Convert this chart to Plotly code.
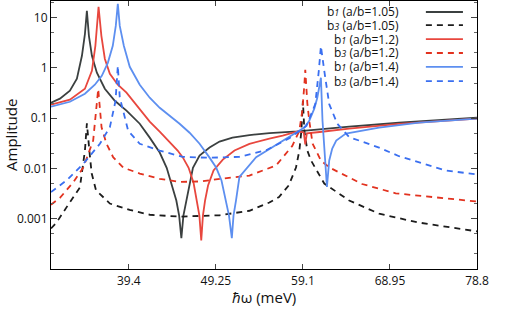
import plotly.graph_objects as go

# ---- data ----
energy_b1_105 = [30.6, 31.61, 32.74, 33.53, 34.10, 34.44, 34.66, 34.89, 35.23, 35.79, 36.69, 37.82, 39.14, 40.64, 41.77, 42.90, 43.69, 44.25, 44.78, 45.10, 45.35, 45.58, 45.91, 46.66, 47.41, 48.54, 49.67, 51.13, 53.05, 55.31, 58.5, 60.95, 64.34, 69.98, 74.5, 78.8]
amp_b1_105 = [0.203, 0.244, 0.352, 0.608, 1.74, 4.75, 13.6, 4.34, 1.74, 0.80, 0.385, 0.222, 0.141, 0.0775, 0.041, 0.0207, 0.0103, 0.0050, 0.0023, 0.00115, 0.00041, 0.00115, 0.0023, 0.0103, 0.018, 0.026, 0.0342, 0.041, 0.046, 0.0504, 0.0547, 0.06, 0.068, 0.081, 0.091, 0.102]

energy_b3_105 = [30.6, 31.25, 32.37, 33.87, 34.44, 34.66, 34.94, 35.2, 35.69, 37.26, 39.5, 41.77, 45.15, 49.67, 53.05, 55.31, 56.4, 57.5, 58.32, 58.7, 58.93, 59.1, 59.27, 59.6, 60.02, 61.52, 64.34, 67.72, 72.0, 78.8]
amp_b3_105 = [0.00064, 0.00085, 0.0017, 0.0042, 0.0227, 0.079, 0.0227, 0.008, 0.0037, 0.002, 0.0015, 0.0012, 0.0011, 0.00117, 0.00144, 0.0021, 0.0027, 0.0046, 0.0104, 0.0227, 0.056, 0.22, 0.056, 0.0227, 0.0144, 0.005, 0.0023, 0.00126, 0.00085, 0.00056]

energy_b1_12 = [30.6, 32.74, 34.44, 35.23, 35.62, 35.98, 36.30, 36.69, 37.26, 38.16, 39.14, 40.64, 41.77, 42.90, 44.03, 44.93, 45.53, 46.17, 46.73, 47.13, 47.39, 47.60, 47.79, 48.03, 48.37, 48.99, 50.04, 51.36, 53.05, 55.31, 56.81, 58.5, 59.2, 59.37, 59.55, 61.0, 64.34, 69.98, 74.5, 78.8]
amp_b1_12 = [0.185, 0.233, 0.385, 0.875, 2.75, 16.3, 4.34, 1.52, 0.763, 0.462, 0.321, 0.155, 0.0853, 0.054, 0.0342, 0.0227, 0.0164, 0.0103, 0.0052, 0.0023, 0.00115, 0.00037, 0.00115, 0.0023, 0.00458, 0.0091, 0.015, 0.0227, 0.0308, 0.0392, 0.045, 0.0547, 0.052, 0.03, 0.05, 0.053, 0.062, 0.077, 0.088, 0.098]

energy_b3_12 = [30.6, 31.61, 33.12, 34.25, 35.37, 35.75, 35.94, 36.32, 36.88, 37.63, 38.76, 40.64, 42.9, 45.15, 47.41, 50.0, 53.05, 56.07, 57.9, 58.7, 59.03, 59.26, 59.37, 59.6, 59.82, 60.2, 61.14, 62.08, 65.8, 69.6, 78.8]
amp_b3_12 = [0.0019, 0.0026, 0.0053, 0.0104, 0.0358, 0.141, 0.38, 0.066, 0.031, 0.0168, 0.0104, 0.0079, 0.0062, 0.0054, 0.0055, 0.0063, 0.0072, 0.0115, 0.028, 0.056, 0.14, 0.44, 0.92, 0.2, 0.089, 0.031, 0.0144, 0.0105, 0.0049, 0.0032, 0.0022]

energy_b1_14 = [30.6, 32.74, 34.44, 35.56, 36.35, 37.03, 37.59, 37.93, 38.16, 38.38, 38.84, 39.51, 40.64, 41.77, 42.90, 44.03, 45.15, 46.28, 47.41, 48.54, 49.30, 49.89, 50.42, 50.74, 51.06, 51.25, 51.53, 51.92, 53.81, 56.81, 58.5, 59.26, 59.82, 60.39, 60.73, 60.95, 61.14, 61.32, 61.63, 61.82, 62.08, 62.42, 62.87, 63.96, 67.72, 72.23, 78.8]
amp_b1_14 = [0.169, 0.212, 0.306, 0.462, 0.697, 1.26, 2.75, 6.84, 18.7, 6.84, 2.75, 1.05, 0.462, 0.255, 0.161, 0.112, 0.0775, 0.0513, 0.031, 0.0164, 0.0103, 0.00575, 0.0023, 0.00115, 0.00041, 0.00115, 0.0023, 0.0068, 0.0168, 0.036, 0.0547, 0.0649, 0.089, 0.155, 0.255, 0.442, 0.637, 0.089, 0.0144, 0.0043, 0.0144, 0.0248, 0.0358, 0.0492, 0.065, 0.0815, 0.0977]

energy_b3_14 = [30.6, 32.37, 34.25, 36.13, 37.26, 37.9, 38.16, 38.38, 39.33, 40.64, 42.9, 45.5, 48.5, 51.9, 54.94, 57.57, 59.5, 60.5, 60.9, 61.14, 61.52, 62.08, 63.0, 64.34, 67.72, 69.98, 75.25, 78.8]
amp_b3_14 = [0.0034, 0.0058, 0.0123, 0.031, 0.066, 0.22, 1.1, 0.26, 0.056, 0.031, 0.0227, 0.017, 0.0163, 0.017, 0.023, 0.04, 0.07, 0.19, 0.87, 2.7, 0.87, 0.19, 0.077, 0.042, 0.026, 0.0175, 0.0091, 0.0076]

x_ticks = [39.4, 49.25, 59.1, 68.95, 78.8]
x_tick_text = ["39.4", "49.25", "59.1", "68.95", "78.8"]
y_ticks = [10, 1, 0.1, 0.01, 0.001]
y_tick_text = ["10", "1", "0.1", "0.01", "0.001"]

SUB = '<span style="font-size:9px"><i>%s</i></span>'
series = [
    ("b" + SUB % "1" + " (a/b=1.05)", energy_b1_105, amp_b1_105, "#3b4040", "solid"),
    ("b" + SUB % "3" + " (a/b=1.05)", energy_b3_105, amp_b3_105, "#1c1c1c", "6px,5px"),
    ("b" + SUB % "1" + " (a/b=1.2)", energy_b1_12, amp_b1_12, "#e8473e", "solid"),
    ("b" + SUB % "3" + " (a/b=1.2)", energy_b3_12, amp_b3_12, "#e2321f", "6px,5px"),
    ("b" + SUB % "1" + " (a/b=1.4)", energy_b1_14, amp_b1_14, "#5d8ff0", "solid"),
    ("b" + SUB % "3" + " (a/b=1.4)", energy_b3_14, amp_b3_14, "#3a6ff0", "6px,5px"),
]

FONT = "Open Sans"
fig = go.Figure()
for name, xs, ys, col, dash in series:
    fig.add_trace(go.Scatter(x=xs, y=ys, mode="lines", name=name,
                             line=dict(color=col, width=1.8, dash=dash),
                             showlegend=False))

# legend drawn manually: text to the left of the line sample
legend_y = [0.959, 0.910, 0.858, 0.806, 0.754, 0.701]
for (name, xs, ys, col, dash), ly in zip(series, legend_y):
    fig.add_annotation(x=0.819, y=ly, xref="paper", yref="paper", text=name,
                       showarrow=False, xanchor="right", yanchor="middle", borderpad=0,
                       font=dict(family=FONT, size=12, color="#111"))
    fig.add_shape(type="line", xref="paper", yref="paper", x0=0.880, x1=0.967,
                  y0=ly, y1=ly, line=dict(color=col, width=1.8, dash=dash))

# axis titles as annotations
fig.add_annotation(x=0.5, y=-0.1045, xref="paper", yref="paper", text="<i>ħ</i>ω (meV)",
                   showarrow=False, xanchor="center", yanchor="middle",
                   font=dict(family=FONT, size=15, color="#111"))
fig.add_annotation(x=-0.094, y=0.5, xref="paper", yref="paper", text="Amplitude",
                   showarrow=False, xanchor="center", yanchor="middle", textangle=-90,
                   borderpad=0, font=dict(family=FONT, size=15, color="#111"))

minor_vals = []
for e in range(-4, 2):
    for m in (2, 5):
        minor_vals.append(m * 10 ** e)

fig.update_layout(
    width=514, height=315,
    margin=dict(l=51, r=37, t=1, b=46),
    plot_bgcolor="white", paper_bgcolor="white",
    font=dict(family=FONT, size=12, color="#111"),
    xaxis=dict(range=[30.6, 78.8], tickvals=x_ticks, ticktext=x_tick_text,
               ticks="inside", ticklen=5, tickcolor="#444", mirror="ticks",
               showline=True, linecolor="black", linewidth=1.2, showgrid=False,
               zeroline=False, automargin=False),
    yaxis=dict(type="log", range=[-4, 1.33], tickvals=y_ticks, ticktext=y_tick_text,
               ticks="inside", ticklen=6, tickcolor="#444", mirror="ticks",
               showline=True, linecolor="black", linewidth=1.2, showgrid=False,
               automargin=False,
               minor=dict(tickvals=minor_vals, ticks="inside", ticklen=3, tickcolor="#666")),
)

fig.write_html("out.html", config={"displayModeBar": False},
               post_script="document.body.style.margin='0';document.body.style.overflow='hidden';")
